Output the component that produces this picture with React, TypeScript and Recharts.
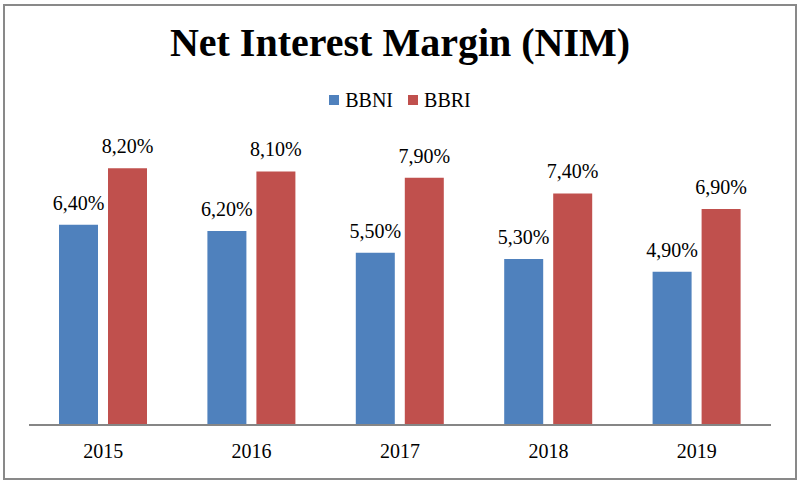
import React from "react";
import { BarChart, Bar, XAxis, YAxis, LabelList } from "recharts";

const years = ["2015", "2016", "2017", "2018", "2019"];
const bbni = [6.4, 6.2, 5.5, 5.3, 4.9];
const bbri = [8.2, 8.1, 7.9, 7.4, 6.9];
const seriesNames = ["BBNI", "BBRI"];
const seriesColors = ["#4F81BD", "#C0504D"];

const data = years.map((y, i) => ({ year: y, BBNI: bbni[i], BBRI: bbri[i] }));

const FONT = "Liberation Serif, serif";

const fmt = (v: any) => Number(v).toFixed(2).replace(".", ",") + "%";

export default function App() {
  return (
    <div style={{ position: "absolute", left: 0, top: 0, width: 800, height: 485, background: "#fff", fontFamily: FONT }}>
      <div style={{ position: "absolute", left: 3, top: 4, width: 790, height: 472, border: "2px solid #898989", boxSizing: "content-box", pointerEvents: "none" }} />
      <div style={{ position: "absolute", left: 0, top: 18, width: 800, textAlign: "center", fontFamily: FONT, fontWeight: "bold", fontSize: 40, lineHeight: "50px", color: "#000" }}>
        Net Interest Margin (NIM)
      </div>
      <div style={{ position: "absolute", left: 0, top: 88, width: 800, height: 24, display: "flex", justifyContent: "center", alignItems: "center", fontFamily: FONT, fontSize: 20, color: "#000" }}>
        {seriesNames.map((n, i) => (
          <div key={n} style={{ display: "flex", alignItems: "center", marginRight: i === 0 ? 15 : 0 }}>
            <span style={{ display: "inline-block", width: 10, height: 10, background: seriesColors[i], marginRight: 6 }} />
            <span>{n}</span>
          </div>
        ))}
      </div>
      <div style={{ position: "absolute", left: 0, top: 0 }}>
        <BarChart width={800} height={485} data={data} margin={{ top: 112, right: 29, left: 29, bottom: 0 }} barSize={39} barGap={10}>
          <XAxis
            dataKey="year"
            height={60}
            tickLine={false}
            tickSize={0}
            tickMargin={19}
            axisLine={{ stroke: "#868686", strokeWidth: 2 }}
            tick={{ fill: "#000", fontFamily: FONT, fontSize: 20 }}
          />
          <YAxis hide domain={[0, 10]} />
          {seriesNames.map((n, i) => (
            <Bar key={n} dataKey={n} fill={seriesColors[i]} isAnimationActive={false}>
              <LabelList dataKey={n} position="top" offset={15} formatter={fmt} fill="#000" fontFamily={FONT} fontSize={20} />
            </Bar>
          ))}
        </BarChart>
      </div>
    </div>
  );
}
